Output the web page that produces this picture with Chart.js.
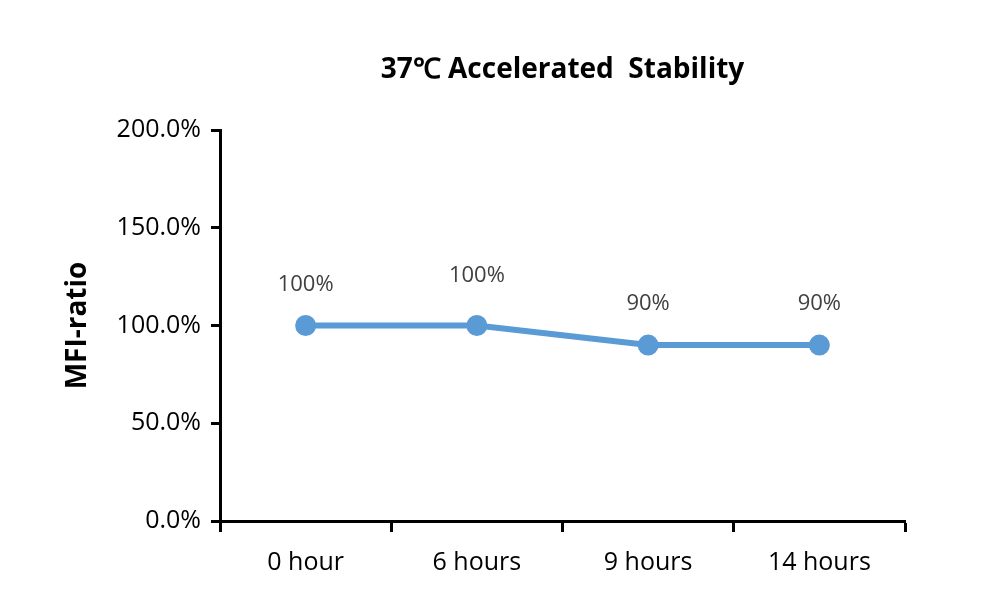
<!DOCTYPE html>
<html>
<head>
<meta charset="utf-8">
<script src="https://cdn.jsdelivr.net/npm/chart.js@4.4.0/dist/chart.umd.min.js"></script>
<style>
  html, body { margin:0; padding:0; background:#fff; }
  #wrap { width:1000px; height:611px; }
</style>
</head>
<body>
<div id="wrap"><canvas id="c" width="1000" height="611"></canvas></div>
<script>
const chartTitle = '37\u2103 Accelerated  Stability';
const categories = ['0 hour', '6 hours', '9 hours', '14 hours'];
const mfiRatio = [1.0, 1.0, 0.9, 0.9];
const pointLabels = ['100%', '100%', '90%', '90%'];
const yTicks = [0, 0.5, 1.0, 1.5, 2.0];

// title drawn over the plot area centre, as in the original
const titlePlugin = {
  id: 'plotTitle',
  afterDraw(chart) {
    const { ctx, chartArea } = chart;
    ctx.save();
    ctx.font = 'bold 28px "Open Sans"';
    ctx.fillStyle = '#000';
    ctx.textAlign = 'center';
    ctx.textBaseline = 'middle';
    ctx.fillText(chartTitle, (chartArea.left + chartArea.right) / 2, 70);
    ctx.restore();
  }
};

// value labels above the points
const labelPlugin = {
  id: 'pointLabels',
  afterDatasetsDraw(chart, args, opts) {
    const { ctx } = chart;
    const meta = chart.getDatasetMeta(0);
    ctx.save();
    ctx.font = '22px "Open Sans"';
    ctx.fillStyle = '#404040';
    ctx.textAlign = 'center';
    ctx.textBaseline = 'middle';
    meta.data.forEach((pt, i) => {
      ctx.fillText(pointLabels[i], pt.x, pt.y - opts.offsets[i]);
    });
    ctx.restore();
  }
};

new Chart(document.getElementById('c').getContext('2d'), {
  type: 'line',
  data: {
    labels: categories,
    datasets: [{
      label: 'MFI-ratio',
      data: mfiRatio,
      borderColor: '#5B9BD5',
      backgroundColor: '#5B9BD5',
      borderWidth: 6,
      pointRadius: 7.5,
      pointHoverRadius: 7.5,
      tension: 0
    }]
  },
  options: {
    responsive: false,
    animation: false,
    events: [],
    layout: { padding: { top: 130, right: 95, left: 0, bottom: 0 } },
    plugins: {
      legend: { display: false },
      title: { display: false },
      tooltip: { enabled: false },
      pointLabels: { offsets: [41, 50, 41, 41] }
    },
    scales: {
      x: {
        offset: true,
        grid: { offset: true, drawOnChartArea: false, drawTicks: true, tickLength: 11, tickColor: '#000', tickWidth: 3 },
        border: { color: '#000', width: 3 },
        ticks: { color: '#000', font: { family: 'Open Sans', size: 25 }, padding: 16 },
        afterFit(s) { s.height = 90; }
      },
      y: {
        min: 0, max: 2,
        afterBuildTicks(s) { s.ticks = yTicks.map(v => ({ value: v })); },
        grid: { drawOnChartArea: false, drawTicks: true, tickLength: 9, tickColor: '#000', tickWidth: 3 },
        border: { color: '#000', width: 3 },
        ticks: {
          color: '#000', font: { family: 'Open Sans', size: 25 }, padding: 10,
          callback: v => (v * 100).toFixed(1) + '%'
        },
        title: {
          display: true, text: 'MFI-ratio', color: '#000',
          font: { family: 'Open Sans', size: 28, weight: 'bold' },
          padding: { top: 61, bottom: 0 }
        },
        afterFit(s) { s.width = 220; }
      }
    }
  },
  plugins: [titlePlugin, labelPlugin]
});
</script>
</body>
</html>
